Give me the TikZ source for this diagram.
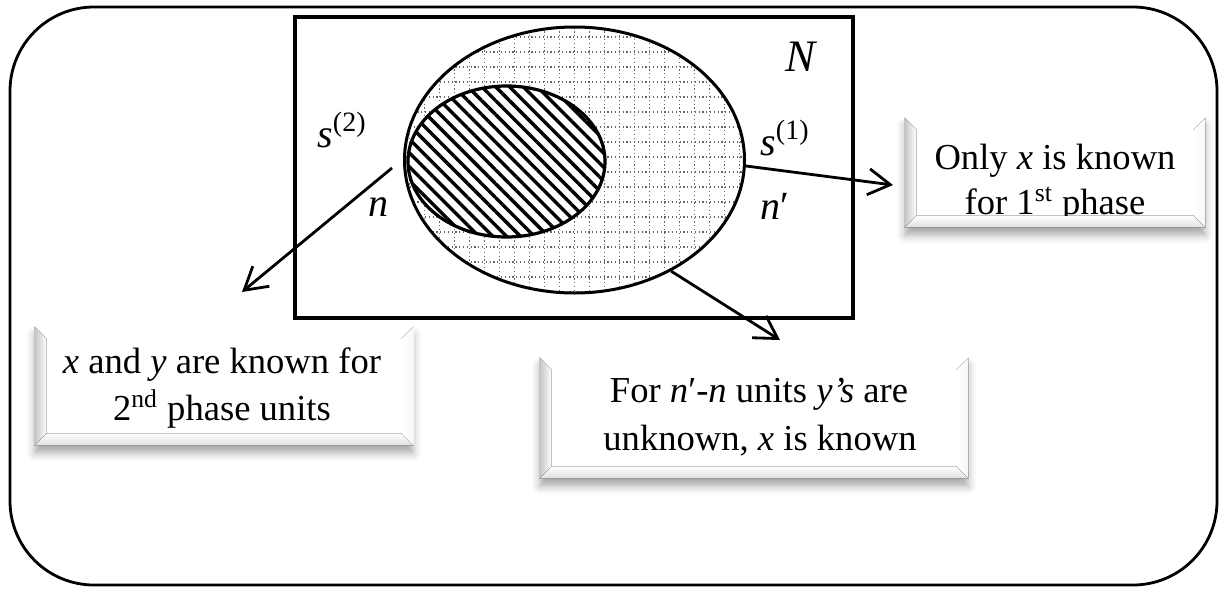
\documentclass[tikz,border=0pt]{standalone}
\usepackage{fontspec}
\setmainfont{Liberation Serif}
\usetikzlibrary{shapes.geometric,patterns.meta,arrows.meta,shadows.blur}
\newcommand\bevw{6pt}
\newcommand{\bevelparts}[1]{%
  \fill[left color=gray!45,right color=white] (#1.north west) -- ([xshift=\bevw,yshift=-\bevw]#1.north west) -- ([xshift=\bevw,yshift=\bevw]#1.south west) -- (#1.south west) -- cycle;
  \fill[top color=white,bottom color=gray!25] (#1.south west) -- ([xshift=\bevw,yshift=\bevw]#1.south west) -- ([xshift=-\bevw,yshift=\bevw]#1.south east) -- (#1.south east) -- cycle;
  \fill[left color=white,right color=gray!7] (#1.north east) -- ([xshift=-\bevw,yshift=-\bevw]#1.north east) -- ([xshift=-\bevw,yshift=\bevw]#1.south east) -- (#1.south east) -- cycle;
}
\begin{document}
\begin{tikzpicture}[x=0.5pt,y=-0.5pt,
  frame/.style={draw=black,line width=1.7pt,inner sep=0pt},
  boxtext/.style={font=\fontsize{18.3}{23}\selectfont,anchor=base,inner sep=0pt},
  lbl/.style={font=\fontsize{20}{24}\selectfont,inner sep=0pt},
  conn/.style={line width=1.4pt,-{Straight Barb[length=11pt,width=13pt]}},
  bevelbox/.style={rectangle,fill=white,inner sep=0pt,blur shadow={shadow xshift=0pt,shadow yshift=-4pt,shadow blur radius=4pt,shadow opacity=35}},
  griddots/.style={black!60,line width=0.7pt,dash pattern=on 0.6pt off 1.3pt},
]
\useasboundingbox (0,0) rectangle (1220,589);
% outer rounded frame
\draw[line width=1.4pt,rounded corners=42pt] (10,7) rectangle (1217,585);
% population rectangle
\node[frame,minimum width=279pt,minimum height=150.5pt] (pop) at (574,167.5) {};
% first-phase sample ellipse with dotted grid (coordinates relative to the node centre)
\node[ellipse,draw,line width=1.5pt,minimum width=170pt,minimum height=133pt,inner sep=0pt,
  preaction={fill=white},
  path picture={
    \foreach \gx in {-180,-165,...,180} {\draw[griddots] (\gx,-140) -- (\gx,140);}
    \foreach \gy in {-138,-123,...,140} {\draw[griddots] (-180,\gy) -- (180,\gy);}
  }] (big) at (574.5,160) {};
% second-phase sample ellipse, hatched
\node[ellipse,draw,line width=1.6pt,minimum width=98.5pt,minimum height=75.5pt,inner sep=0pt,
  preaction={fill=white},pattern={Lines[angle=-45,distance=4.9pt,line width=1.7pt]}] (small) at (506.5,161.5) {};
% labels
\node[lbl] (s2) at (342,130) {\textit{s}\textsuperscript{(2)}};
\node[lbl] (nn) at (378,207) {\textit{n}};
\node[font=\fontsize{22.5}{26}\selectfont,inner sep=0pt] (NN) at (802,57) {\textit{N}};
\node[lbl] (s1) at (785,138) {\textit{s}\textsuperscript{(1)}};
\node[lbl] (np) at (775,206) {\textit{n}′};
% arrows
\coordinate (a1s) at (392,168);
\coordinate (a1e) at (242,292);
\coordinate (a2e) at (893,185);
\coordinate (a3e) at (780,340);
\draw[conn] (a1s) -- (a1e);
\draw[conn] (big.-2) -- (a2e);
\draw[conn] (big.-49.5) -- (a3e);
% box 1
\node[bevelbox,minimum width=150pt,minimum height=54.5pt] (b1) at (1055,172.5) {};
\bevelparts{b1}
\begin{scope}
\clip ([xshift=\bevw,yshift=-\bevw]b1.north west) rectangle ([xshift=-\bevw,yshift=\bevw]b1.south east);
\node[boxtext] (t11) at (1055,169) {Only \textit{x} is known};
\node[boxtext] (t12) at (1055,214) {for 1\textsuperscript{st} phase};
\end{scope}
% box 2
\node[bevelbox,minimum width=189pt,minimum height=59pt] (b2) at (224,386) {};
\bevelparts{b2}
\node[boxtext] (t21) at (222,373) {\textit{x} and \textit{y} are known for};
\node[boxtext] (t22) at (222,420) {2\textsuperscript{nd} phase units};
% box 3
\node[bevelbox,minimum width=214pt,minimum height=60pt] (b3) at (754,418) {};
\bevelparts{b3}
\node[boxtext] (t31) at (759,402) {For \textit{n}′-\textit{n} units \textit{y’s} are};
\node[boxtext] (t32) at (760,450) {unknown, \textit{x} is known};
\end{tikzpicture}
\end{document}
